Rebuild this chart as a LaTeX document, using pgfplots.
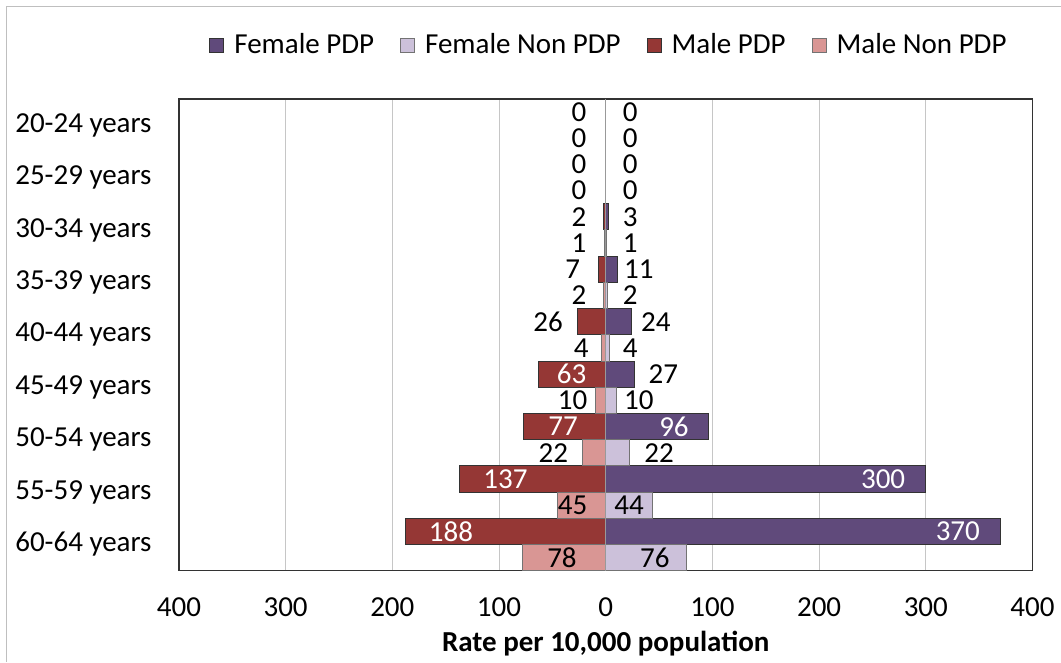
\documentclass[border=0pt]{standalone}
\usepackage{fontspec}
\setmainfont{Carlito}
\usepackage{pgfplots}
\pgfplotsset{compat=1.18}

\definecolor{fpdp}{HTML}{604A7B}
\definecolor{fnon}{HTML}{CCC1DA}
\definecolor{mpdp}{HTML}{953735}
\definecolor{mnon}{HTML}{D99694}

\begin{document}
\fontsize{14.5}{17}\selectfont
\begin{tikzpicture}
\begin{axis}[
  name=ax,
  scale only axis,
  width=427pt, height=236pt,
  xmin=-400, xmax=400,
  ymin=-0.5, ymax=17.5,
  y dir=reverse,
  xtick={-400,-300,...,400},
  xticklabels={400,300,200,100,0,100,200,300,400},
  ytick={0.5,2.5,...,16.5},
  yticklabels={20-24 years,25-29 years,30-34 years,35-39 years,40-44 years,45-49 years,50-54 years,55-59 years,60-64 years},
  /pgf/number format/assume math mode=true,
  xticklabel style={anchor=north, inner sep=0pt, yshift=-13.5pt},
  yticklabel style={anchor=east, inner sep=0pt, xshift=-13.5pt},
  major tick length=0pt,
  xmajorgrids,
  grid style={gray!45, line width=0.5pt},
  axis line style={black!80, line width=0.75pt},
  xlabel={\textbf{Rate per 10,000 population}},
  xlabel style={at={(axis description cs:0.5,0)}, anchor=north, inner sep=0pt, yshift=-30pt},
  legend columns=4,
  legend style={at={(0.505,1.114)}, anchor=center, draw=none, fill=none,
    /tikz/every odd column/.append style={column sep=3pt},
    /tikz/every even column/.append style={column sep=11pt}},
  legend image code/.code={\draw[#1] (0pt,-3.5pt) rectangle (7pt,3.5pt);},
]
% bars: rows 0,2,...,16 = PDP, rows 1,3,...,17 = Non PDP
\addplot[xbar, bar width=1, bar shift=0pt, fill=fpdp, draw=black!80, line width=0.5pt]
  coordinates {(0,0) (0,2) (3,4) (11,6) (24,8) (27,10) (96,12) (300,14) (370,16)};
\addplot[xbar, bar width=1, bar shift=0pt, fill=fnon, draw=black!55, line width=0.5pt]
  coordinates {(0,1) (0,3) (1,5) (2,7) (4,9) (10,11) (22,13) (44,15) (76,17)};
\addplot[xbar, bar width=1, bar shift=0pt, fill=mpdp, draw=black!80, line width=0.5pt]
  coordinates {(0,0) (0,2) (-2,4) (-7,6) (-26,8) (-63,10) (-77,12) (-137,14) (-188,16)};
\addplot[xbar, bar width=1, bar shift=0pt, fill=mnon, draw=black!55, line width=0.5pt]
  coordinates {(0,1) (0,3) (-1,5) (-2,7) (-4,9) (-10,11) (-22,13) (-45,15) (-78,17)};
\legend{Female PDP, Female Non PDP, Male PDP, Male Non PDP}

\draw[gray!80, line width=0.75pt] (axis cs:0,-0.5) -- (axis cs:0,17.5);

% value labels
\addplot[forget plot, draw=none, mark=none, nodes near coords, point meta=explicit symbolic,
  every node near coord/.append style={anchor=center, text=black, inner sep=0pt}]
  coordinates {
  (-25,0)[0] (23,0)[0] (-25,1)[0] (23,1)[0]
  (-25,2)[0] (23,2)[0] (-25,3)[0] (23,3)[0]
  (-25,4)[2] (23,4)[3] (-25,5)[1] (23,5)[1]
  (-31,6)[7] (31,6)[11] (-25,7)[2] (23,7)[2]
  (-54,8)[26] (47,8)[24] (-23,9)[4] (23,9)[4]
  (54,10)[27] (-31,11)[10] (31,11)[10]
  (-49,13)[22] (50,13)[22]
  (-31,15)[45] (22,15)[44]
  (-41,17)[78] (46,17)[76]};
\addplot[forget plot, draw=none, mark=none, nodes near coords, point meta=explicit symbolic,
  every node near coord/.append style={anchor=center, text=white, inner sep=0pt}]
  coordinates {
  (-32,10)[63] (-40,12)[77] (64,12)[96]
  (-94,14)[137] (260,14)[300]
  (-145,16)[188] (330,16)[370]};
\end{axis}
\draw[gray!50, line width=0.5pt] ([shift={(-86pt,-45.5pt)}]ax.south west) -- ([shift={(-86pt,282pt)}]ax.south west) -- ([shift={(441pt,282pt)}]ax.south west);
\path[use as bounding box] ([shift={(-89.5pt,-45.5pt)}]ax.south west) rectangle ([shift={(441pt,285.5pt)}]ax.south west);
\end{tikzpicture}
\end{document}
